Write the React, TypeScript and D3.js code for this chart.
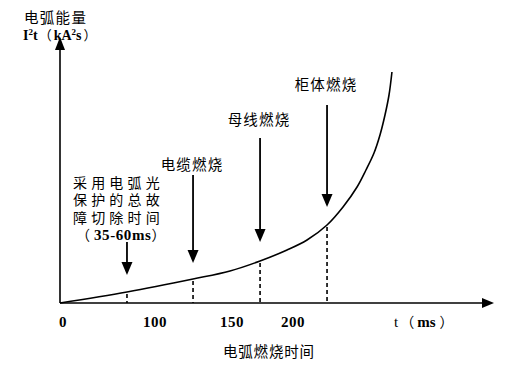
import React from 'react';
import * as d3 from 'd3';

// --- data ---
const tickValues = [0, 100, 150, 200];
const tickLabels = ['0', '100', '150', '200'];
const tickPixelStops = [60, 155, 232, 293]; // schematic (non-uniform) axis in original

const curveTimes = [0, 70.5, 124.7, 148.7, 173, 195.1, 211.5, 227.9, 241, 252.5, 259.8, 266.4, 271.3, 275.4, 278.7, 281.1];
const curveEnergy = [0, 11, 24, 32, 42, 53, 63, 78, 96, 116, 133, 150, 168, 188, 208, 231];

const eventNames = ['电缆燃烧', '母线燃烧', '柜体燃烧'];
const protectionLines = ['采用电弧光', '保护的总故', '障切除时间'];
const protectionTime = '35-60ms';
const eventTimes = [70.5, 124.7, 173, 227.9];
const eventEnergy = [11, 24, 42, 78];
const arrowTopEnergy = [61, 128, 165, 198];
const arrowTipEnergy = [28, 40, 61, 96];
const labelEnergy = [133, 178, 213];

const yTitle1 = '电弧能量';
const xTitle = '电弧燃烧时间';

const W = 523;
const H = 375;

export default function App() {
  const x = d3.scaleLinear().domain(tickValues).range(tickPixelStops);
  const y = d3.scaleLinear().domain([0, 266]).range([303, 37]);
  const x0 = x(0);
  const y0 = y(0);
  const xEnd = 494;

  const line = d3
    .line<number>()
    .x((_, i) => x(curveTimes[i]))
    .y((d) => y(d))
    .curve(d3.curveCatmullRom.alpha(0.5));
  const curvePath = line(curveEnergy) || '';

  const cjk = '"Noto Sans CJK SC", sans-serif';
  const serif = '"Liberation Serif", serif';
  const headH = 13;
  const headW = 5.5;

  return (
    <svg width={W} height={H} style={{ position: 'absolute', left: 0, top: 0, background: '#fff' }}>
      <rect width={W} height={H} fill="#fff" />
      {/* axes */}
      <line x1={x0} y1={y0} x2={x0} y2={y(266) + 10} stroke="#000" strokeWidth={1.6} />
      <path d={`M${x0},${y(266)} L${x0 - 5},${y(266) + 13} L${x0 + 5},${y(266) + 13} Z`} fill="#000" />
      <line x1={x0} y1={y0} x2={xEnd - 10} y2={y0} stroke="#000" strokeWidth={1.6} />
      <path d={`M${xEnd},${y0} L${xEnd - 12},${y0 - 5} L${xEnd - 12},${y0 + 5} Z`} fill="#000" />

      {/* curve */}
      <path d={curvePath} fill="none" stroke="#000" strokeWidth={1.6} />

      {/* dashed drops */}
      {eventTimes.map((t, i) => (
        <line key={'d' + i} x1={x(t)} x2={x(t)} y1={y(eventEnergy[i]) + 2} y2={y0}
          stroke="#000" strokeWidth={1.6} strokeDasharray="4,3" />
      ))}

      {/* arrows */}
      {eventTimes.map((t, i) => {
        const ax = x(t);
        const top = y(arrowTopEnergy[i]);
        const tip = y(arrowTipEnergy[i]);
        return (
          <g key={'a' + i}>
            <line x1={ax} x2={ax} y1={top} y2={tip - headH + 2} stroke="#000" strokeWidth={1.8} />
            <path d={`M${ax},${tip} L${ax - headW},${tip - headH} L${ax + headW},${tip - headH} Z`} fill="#000" />
          </g>
        );
      })}

      {/* event labels */}
      {eventNames.map((n, i) => (
        <text key={'l' + i} x={x(eventTimes[i + 1]) - 1} y={y(labelEnergy[i])} textAnchor="middle"
          fontFamily={cjk} fontSize={14.5} letterSpacing={1.2} fill="#000">{n}</text>
      ))}
      {protectionLines.map((s, i) => (
        <text key={'p' + i} x={x(eventTimes[0]) - 54} y={y(115) + i * 17.3}
          fontFamily={cjk} fontSize={14} letterSpacing={4.2} fill="#000">{s}</text>
      ))}
      <text x={x(eventTimes[0]) - 53} y={y(115) + 3 * 17.3} fill="#000">
        <tspan fontFamily={cjk} fontSize={14} dx={2}>（</tspan>
        <tspan fontFamily={serif} fontWeight="bold" fontSize={15} letterSpacing={0.6} dx={4}>{protectionTime}</tspan>
        <tspan fontFamily={cjk} fontSize={14} dx={0}>）</tspan>
      </text>

      {/* tick labels */}
      {tickValues.map((v, i) => (
        <text key={'t' + i} x={x(v) + (i === 0 ? 3 : 0)} y={y0 + 24} textAnchor="middle"
          fontFamily={serif} fontWeight="bold" fontSize={15} letterSpacing={0.5} fill="#000">{tickLabels[i]}</text>
      ))}
      <text x={394} y={y0 + 24} fill="#000">
        <tspan fontFamily={serif} fontSize={15}>t</tspan>
        <tspan fontFamily={cjk} fontSize={14} dx={2}>（</tspan>
        <tspan fontFamily={serif} fontWeight="bold" fontSize={15} dx={3}>ms</tspan>
        <tspan fontFamily={cjk} fontSize={14} dx={4}>）</tspan>
      </text>

      {/* titles */}
      <text x={24} y={23} fontFamily={cjk} fontSize={14.5} letterSpacing={1.3} fill="#000">{yTitle1}</text>
      <text x={23} y={40} fill="#000">
        <tspan fontFamily={serif} fontWeight="bold" fontSize={14}>I</tspan>
        <tspan fontFamily={serif} fontWeight="bold" fontSize={9} dy={-5}>2</tspan>
        <tspan fontFamily={serif} fontWeight="bold" fontSize={14} dy={5}>t</tspan>
        <tspan fontFamily={cjk} fontSize={13} dx={1}>（</tspan>
        <tspan fontFamily={serif} fontWeight="bold" fontSize={14} dx={2}>kA</tspan>
        <tspan fontFamily={serif} fontWeight="bold" fontSize={9} dy={-5}>2</tspan>
        <tspan fontFamily={serif} fontWeight="bold" fontSize={14} dy={5}>s</tspan>
        <tspan fontFamily={cjk} fontSize={13} dx={2}>）</tspan>
      </text>
      <text x={223} y={357} fontFamily={cjk} fontSize={14.5} letterSpacing={0.8} fill="#000">{xTitle}</text>
    </svg>
  );
}
